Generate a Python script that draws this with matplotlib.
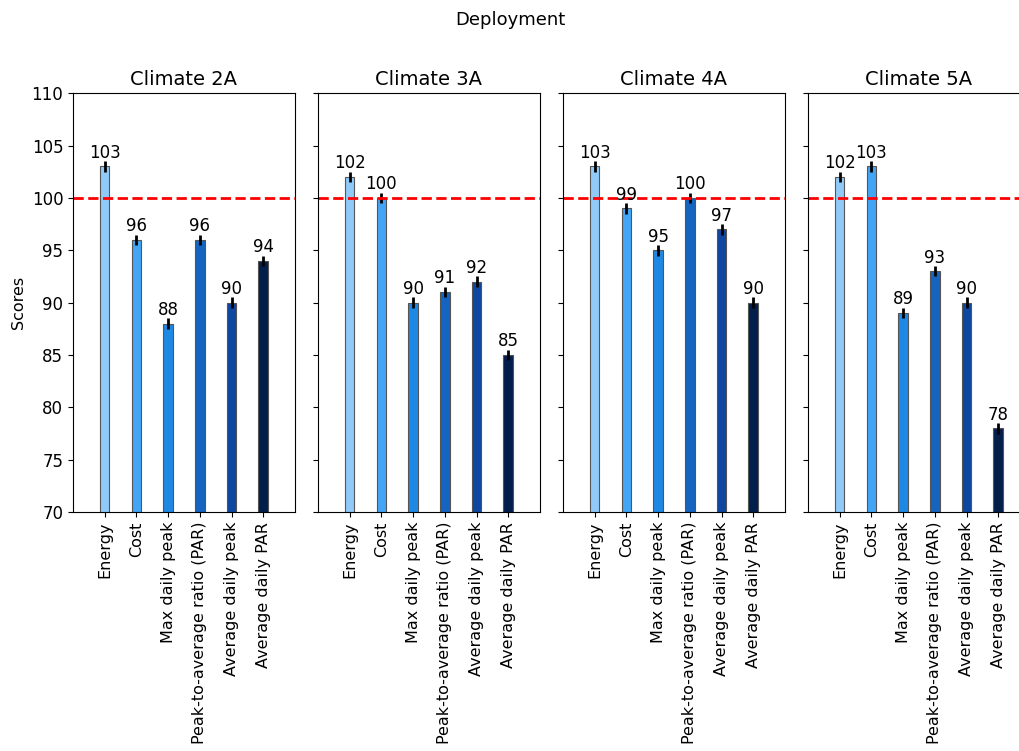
import matplotlib
matplotlib.use("Agg")
import matplotlib.pyplot as plt
import numpy as np

climates = ["Climate 2A", "Climate 3A", "Climate 4A", "Climate 5A"]
metrics = [
    "Energy",
    "Cost",
    "Max daily peak",
    "Peak-to-average ratio (PAR)",
    "Average daily peak",
    "Average daily PAR",
]
scores_2a = [103, 96, 88, 96, 90, 94]
scores_3a = [102, 100, 90, 91, 92, 85]
scores_4a = [103, 99, 95, 100, 97, 90]
scores_5a = [102, 103, 89, 93, 90, 78]
score_err = 0.5
baseline = 100

colors = ["#90caf9", "#42a5f5", "#1e88e5", "#1565c0", "#0d47a1", "#021f4b"]

fig = plt.figure(figsize=(10.2, 7.51), dpi=100)
fig.suptitle("Deployment", fontsize=13, y=0.985)

all_scores = [scores_2a, scores_3a, scores_4a, scores_5a]
x = np.arange(len(metrics))
for i, (name, vals) in enumerate(zip(climates, all_scores)):
    left = (73 + 245 * i) / 1020
    ax = fig.add_axes([left, 0.318, 0.2176, 0.558])
    ax.bar(x, vals, width=0.3, color=colors, edgecolor="#555555", linewidth=0.8,
           yerr=score_err, error_kw={"elinewidth": 2, "ecolor": "black", "capsize": 0})
    for xi, v in zip(x, vals):
        ax.text(xi, v + score_err - 0.05, str(v), ha="center", va="bottom", fontsize=12)
    ax.axhline(baseline, color="red", linestyle="--", linewidth=2)
    ax.set_xlim(-1, len(metrics))
    ax.set_ylim(70, 110)
    ax.set_yticks(np.arange(70, 111, 5))
    ax.set_xticks(x)
    ax.set_xticklabels(metrics, rotation=90, fontsize=11.5)
    ax.set_title(name, fontsize=14)
    ax.tick_params(axis="y", labelsize=12)
    if i == 0:
        ax.set_ylabel("Scores", fontsize=11.5)
    else:
        ax.tick_params(axis="y", labelleft=False)

fig.savefig("out.png", dpi=100)
